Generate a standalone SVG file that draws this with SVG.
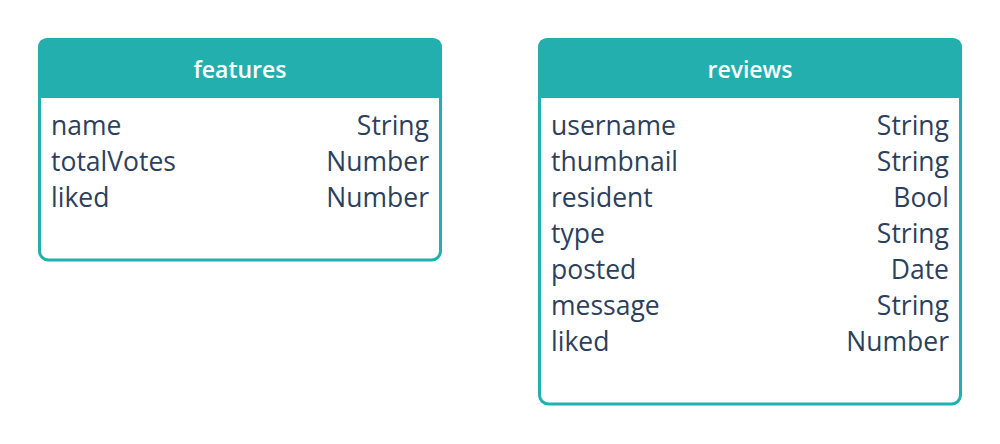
<svg xmlns="http://www.w3.org/2000/svg" width="1000" height="444" viewBox="0 0 1000 444">
<style>
.box{fill:#ffffff;stroke:#24afaf;stroke-width:3}
.hdr{fill:#24afaf}
.title{font-family:"Open Sans","Noto Sans",sans-serif;font-size:23px;font-weight:600;fill:#ffffff;text-anchor:middle}
.f{font-family:"Open Sans","Noto Sans",sans-serif;font-size:26.5px;fill:#2e3f5c}
.t{font-family:"Open Sans","Noto Sans",sans-serif;font-size:26.5px;fill:#2e3f5c;text-anchor:end}
</style>
<rect width="1000" height="444" fill="#ffffff"/>
<g id="features">
<rect class="box" x="39.5" y="39.5" width="401" height="220.5" rx="9"/>
<path class="hdr" d="M38 48 Q38 38 48 38 L432 38 Q442 38 442 48 L442 98 L38 98 Z"/>
<text class="title" x="240" y="78">features</text>
<text class="f" x="51" y="134.5">name</text><text class="t" x="429" y="134.5">String</text>
<text class="f" x="51" y="170.5">totalVotes</text><text class="t" x="429" y="170.5">Number</text>
<text class="f" x="51" y="206.5">liked</text><text class="t" x="429" y="206.5">Number</text>
</g>
<g id="reviews">
<rect class="box" x="539.5" y="39.5" width="421" height="364.5" rx="9"/>
<path class="hdr" d="M538 48 Q538 38 548 38 L952 38 Q962 38 962 48 L962 98 L538 98 Z"/>
<text class="title" x="750" y="78">reviews</text>
<text class="f" x="551" y="134.5">username</text><text class="t" x="949" y="134.5">String</text>
<text class="f" x="551" y="170.5">thumbnail</text><text class="t" x="949" y="170.5">String</text>
<text class="f" x="551" y="206.5">resident</text><text class="t" x="949" y="206.5">Bool</text>
<text class="f" x="551" y="242.5">type</text><text class="t" x="949" y="242.5">String</text>
<text class="f" x="551" y="278.5">posted</text><text class="t" x="949" y="278.5">Date</text>
<text class="f" x="551" y="314.5">message</text><text class="t" x="949" y="314.5">String</text>
<text class="f" x="551" y="350.5">liked</text><text class="t" x="949" y="350.5">Number</text>
</g>
<g id="connectors"></g>
</svg>
